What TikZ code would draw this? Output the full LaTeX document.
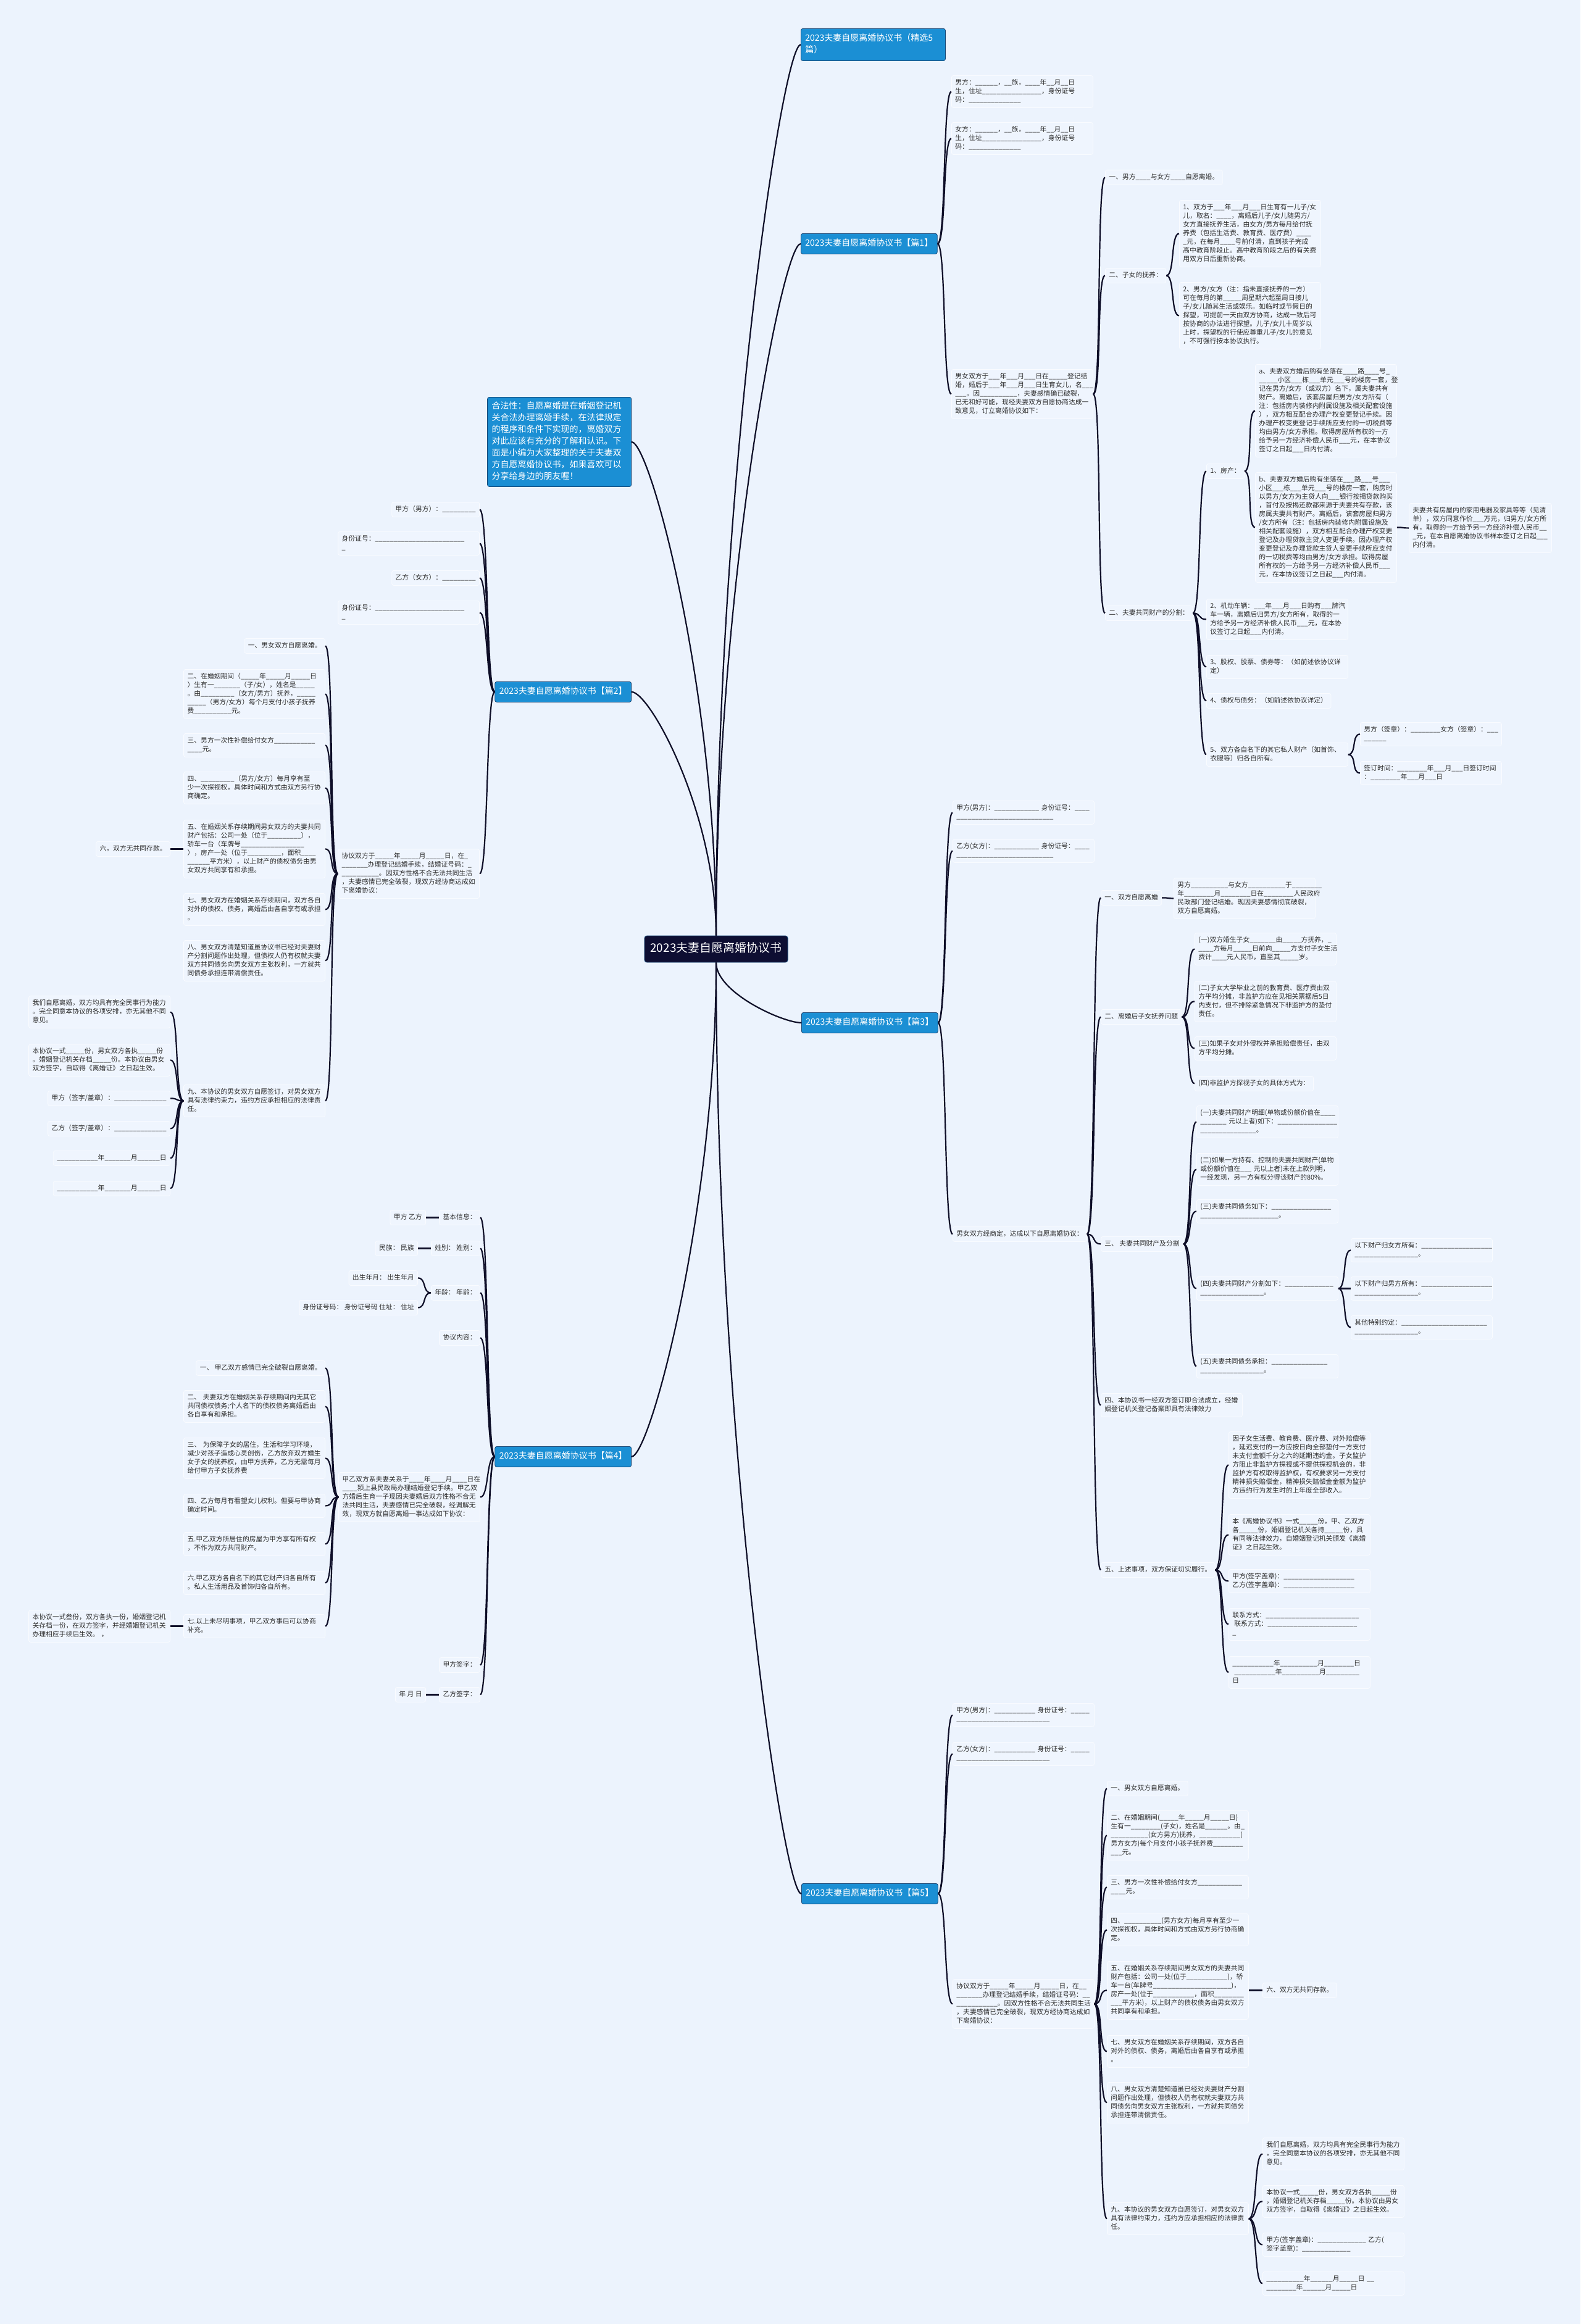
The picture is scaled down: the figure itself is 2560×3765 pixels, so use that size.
\documentclass[tikz,border=0pt]{standalone}
\usepackage{fontspec}
\setmainfont{Noto Sans CJK SC}
\usepackage{tikz}
\usetikzlibrary{calc}

\definecolor{bgc}{RGB}{236,243,253}
\definecolor{boxfill}{RGB}{239,245,254}
\definecolor{boxline}{RGB}{249,251,255}
\definecolor{textc}{RGB}{45,45,45}
\definecolor{linec}{RGB}{14,14,40}
\definecolor{headfill}{RGB}{27,143,212}
\definecolor{headline}{RGB}{22,72,120}
\definecolor{rootfill}{RGB}{14,14,50}

\tikzset{
  link/.style={draw=linec, line width=2.2pt},
  cell/.style={draw=boxline, fill=boxfill, rounded corners=3pt, line width=0.8pt,
    inner xsep=6pt, inner ysep=5pt, align=left, text=textc,
    font=\fontsize{10.8}{14}\selectfont,
    execute at begin node=\strut, execute at end node=\strut},
  box/.style={cell, text width=217pt},
  head/.style={draw=headline, fill=headfill, rounded corners=3pt, line width=0.8pt,
    inner xsep=7pt, inner ysep=7pt, align=left, text=white,
    font=\fontsize{14}{19}\selectfont,
    execute at begin node=\strut, execute at end node=\strut},
  rootbox/.style={draw=headline, fill=rootfill, rounded corners=4pt, line width=0.8pt,
    inner xsep=9.5pt, inner ysep=9.5pt, text=white,
    font=\fontsize{19}{24}\selectfont,
    execute at begin node=\strut},
}

\begin{document}
\catcode`\_=12
\begin{tikzpicture}[x=1pt, y=-1pt]
  \fill[bgc] (0,0) rectangle (2560,3765);
  \useasboundingbox (0,0) rectangle (2560,3765);

  % centre
  \node[rootbox] (root) at (1160,1537.5) {2023夫妻自愿离婚协议书};

  % right branches
  \node[head, anchor=north west, text width=220pt] (h0) at (1297,46) {2023夫妻自愿离婚协议书（精选5\\篇）};
  \node[head, anchor=north west] (h1) at (1297,378) {2023夫妻自愿离婚协议书【篇1】};
  \node[head, anchor=north west] (h3) at (1298,1640) {2023夫妻自愿离婚协议书【篇3】};
  \node[head, anchor=north west] (h5) at (1298,3051) {2023夫妻自愿离婚协议书【篇5】};

  % left branches
  \node[head, anchor=north east, text width=219pt, inner ysep=6pt] (note) at (1023,643)
    {合法性：自愿离婚是在婚姻登记机\\关合法办理离婚手续，在法律规定\\的程序和条件下实现的，离婚双方\\对此应该有充分的了解和认识。下\\面是小编为大家整理的关于夫妻双\\方自愿离婚协议书，如果喜欢可以\\分享给身边的朋友喔！};
  \node[head, anchor=north east] (h2) at (1023,1104) {2023夫妻自愿离婚协议书【篇2】};
  \node[head, anchor=north east] (h4) at (1023,2343) {2023夫妻自愿离婚协议书【篇4】};

  % ---- 篇1
  \node[box, anchor=north west] (p1a) at (1541,122) {男方：______，__族，____年__月__日\\生，住址________________，身份证号\\码：______________};
  \node[box, anchor=north west] (p1b) at (1541,198) {女方：______，__族，____年__月__日\\生，住址________________，身份证号\\码：______________};
  \node[box, anchor=north west] (p1c) at (1541,598) {男女双方于___年___月___日在_____登记结\\婚，婚后于___年___月___日生育女儿，名___\\___。因__________，夫妻感情确已破裂，\\已无和好可能，现经夫妻双方自愿协商达成一\\致意见，订立离婚协议如下：};
  \node[cell, anchor=north west] (p1d) at (1790,275) {一、男方____与女方____自愿离婚。};
  \node[cell, anchor=north west] (p1e) at (1790,434) {二、子女的抚养：};
  \node[box, anchor=north west] (p1e1) at (1910,324) {1、双方于___年___月___日生育有一儿子/女\\儿，取名：____，离婚后儿子/女儿随男方/\\女方直接抚养生活，由女方/男方每月给付抚\\养费（包括生活费、教育费、医疗费）____\\_元，在每月____号前付清，直到孩子完成\\高中教育阶段止。高中教育阶段之后的有关费\\用双方日后重新协商。};
  \node[box, anchor=north west] (p1e2) at (1910,457) {2、男方/女方（注：指未直接抚养的一方）\\可在每月的第_____周星期六起至周日接儿\\子/女儿随其生活或娱乐。如临时或节假日的\\探望，可提前一天由双方协商，达成一致后可\\按协商的办法进行探望。儿子/女儿十周岁以\\上时，探望权的行使应尊重儿子/女儿的意见\\，不可强行按本协议执行。};
  \node[cell, anchor=north west] (p1f) at (1790,981) {二、夫妻共同财产的分割：};
  \node[cell, anchor=north west] (p1f1) at (1954,751) {1、房产：};
  \node[box, anchor=north west] (p1fa) at (2033,590) {a、夫妻双方婚后购有坐落在____路____号_\\_____小区___栋___单元___号的楼房一套，登\\记在男方/女方（或双方）名下，属夫妻共有\\财产。离婚后，该套房屋归男方/女方所有（\\注：包括房内装修内附属设施及相关配套设施\\），双方相互配合办理产权变更登记手续。因\\办理产权变更登记手续所应支付的一切税费等\\均由男方/女方承担。取得房屋所有权的一方\\给予另一方经济补偿人民币___元，在本协议\\签订之日起___日内付清。};
  \node[box, anchor=north west] (p1fb) at (2033,765) {b、夫妻双方婚后购有坐落在___路___号___\\小区___栋___单元___号的楼房一套，购房时\\以男方/女方为主贷人向___银行按揭贷款购买\\，首付及按揭还款都来源于夫妻共有存款，该\\房属夫妻共有财产。离婚后，该套房屋归男方\\/女方所有（注：包括房内装修内附属设施及\\相关配套设施），双方相互配合办理产权变更\\登记及办理贷款主贷人变更手续。因办理产权\\变更登记及办理贷款主贷人变更手续所应支付\\的一切税费等均由男方/女方承担。取得房屋\\所有权的一方给予另一方经济补偿人民币___\\元，在本协议签订之日起___内付清。};
  \node[box, anchor=north west, text width=219pt] (p1fc) at (2282,815) {夫妻共有房屋内的家用电器及家具等等（见清\\单），双方同意作价___万元，归男方/女方所\\有，取得的一方给予另一方经济补偿人民币__\\_元，在本自愿离婚协议书样本签订之日起___\\内付清。};
  \node[box, anchor=north west] (p1f2) at (1954,970) {2、机动车辆：___年___月___日购有___牌汽\\车一辆，离婚后归男方/女方所有，取得的一\\方给予另一方经济补偿人民币___元，在本协\\议签订之日起___内付清。};
  \node[box, anchor=north west] (p1f3) at (1954,1061) {3、股权、股票、债券等：（如前述依协议详\\定）};
  \node[cell, anchor=north west] (p1f4) at (1954,1123) {4、债权与债务：（如前述依协议详定）};
  \node[box, anchor=north west] (p1f5) at (1954,1203) {5、双方各自名下的其它私人财产（如首饰、\\衣服等）归各自所有。};
  \node[box, anchor=north west] (p1g1) at (2203,1170) {男方（签章）：________女方（签章）：___\\______};
  \node[box, anchor=north west] (p1g2) at (2203,1233) {签订时间：________年___月___日签订时间\\：________年___月___日};

  % ---- 篇3
  \node[box, anchor=north west] (p3a) at (1543,1297) {甲方(男方)：____________~身份证号：____\\__________________________};
  \node[box, anchor=north west] (p3b) at (1543,1359) {乙方(女方)：____________~身份证号：____\\__________________________};
  \node[cell, anchor=north west] (p3c) at (1543,1987) {男女双方经商定，达成以下自愿离婚协议：};
  \node[cell, anchor=north west] (p3d) at (1783,1442) {一、双方自愿离婚};
  \node[box, anchor=north west] (p3d1) at (1901,1422) {男方__________与女方__________于________\\年________月________日在________人民政府\\民政部门登记结婚。现因夫妻感情彻底破裂，\\双方自愿离婚。};
  \node[cell, anchor=north west] (p3e) at (1783,1635) {二、离婚后子女抚养问题};
  \node[box, anchor=north west] (p3e1) at (1935,1511) {(一)双方婚生子女_______由_____方抚养，_\\____方每月_____日前向_____方支付子女生活\\费计____元人民币，直至其_____岁。};
  \node[box, anchor=north west] (p3e2) at (1935,1589) {(二)子女大学毕业之前的教育费、医疗费由双\\方平均分摊，非监护方应在见相关票据后5日\\内支付，但不排除紧急情况下非监护方的垫付\\责任。};
  \node[box, anchor=north west] (p3e3) at (1935,1679) {(三)如果子女对外侵权并承担赔偿责任，由双\\方平均分摊。};
  \node[cell, anchor=north west] (p3e4) at (1935,1743) {(四)非监护方探视子女的具体方式为：};
  \node[cell, anchor=north west] (p3f) at (1783,2003) {三、~夫妻共同财产及分割};
  \node[box, anchor=north west] (p3f1) at (1938,1791) {(一)夫妻共同财产明细(单物或份额价值在____\\_______~元以上者)如下：________________\\_______________。};
  \node[box, anchor=north west] (p3f2) at (1938,1868) {(二)如果一方持有、控制的夫妻共同财产(单物\\或份额价值在___~元以上者)未在上款列明，\\一经发现，另一方有权分得该财产的80\%。};
  \node[box, anchor=north west] (p3f3) at (1938,1943) {(三)夫妻共同债务如下：________________\\_____________________。};
  \node[box, anchor=north west] (p3f4) at (1938,2068) {(四)夫妻共同财产分割如下：_____________\\_________________。};
  \node[box, anchor=north west] (p3f4a) at (2188,2006) {以下财产归女方所有：___________________\\_________________。};
  \node[box, anchor=north west] (p3f4b) at (2188,2068) {以下财产归男方所有：___________________\\_________________。};
  \node[box, anchor=north west] (p3f4c) at (2188,2131) {其他特别约定：_______________________\\_________________。};
  \node[box, anchor=north west] (p3f5) at (1938,2194) {(五)夫妻共同债务承担：_______________\\_________________。};
  \node[box, anchor=north west] (p3g) at (1783,2257) {四、本协议书一经双方签订即合法成立，经婚\\姻登记机关登记备案即具有法律效力};
  \node[cell, anchor=north west] (p3h) at (1783,2531) {五、上述事项，双方保证切实履行。};
  \node[box, anchor=north west] (p3h1) at (1990,2319) {因子女生活费、教育费、医疗费、对外赔偿等\\，延迟支付的一方应按日向全部垫付一方支付\\未支付金额千分之六的延期违约金。子女监护\\方阻止非监护方探视或不提供探视机会的，非\\监护方有权取得监护权，有权要求另一方支付\\精神损失赔偿金，精神损失赔偿金金额为监护\\方违约行为发生时的上年度全部收入。};
  \node[box, anchor=north west] (p3h2) at (1990,2453) {本《离婚协议书》一式_____份，甲、乙双方\\各_____份，婚姻登记机关各持_____份，具\\有同等法律效力，自婚姻登记机关颁发《离婚\\证》之日起生效。};
  \node[box, anchor=north west] (p3h3) at (1990,2542) {甲方(签字盖章)：___________________\\乙方(签字盖章)：___________________};
  \node[box, anchor=north west] (p3h4) at (1990,2605) {联系方式：_________________________\\\hspace{3pt}联系方式：________________________\\_};
  \node[box, anchor=north west] (p3h5) at (1990,2683) {___________年__________月________日\\\hspace{3pt}___________年__________月_________\\日};

  % ---- 篇5
  \node[box, anchor=north west] (p5a) at (1543,2759) {甲方(男方)：___________~身份证号：_____\\_________________________};
  \node[box, anchor=north west] (p5b) at (1543,2822) {乙方(女方)：___________~身份证号：_____\\_________________________};
  \node[box, anchor=north west] (p5c) at (1543,3206) {协议双方于_____年_____月_____日，在__\\_______办理登记结婚手续，结婚证号码：__\\___________。因双方性格不合无法共同生活\\，夫妻感情已完全破裂，现双方经协商达成如\\下离婚协议：};
  \node[cell, anchor=north west] (p5d1) at (1793,2885) {一、男女双方自愿离婚。};
  \node[box, anchor=north west] (p5d2) at (1793,2933) {二、在婚姻期间(_____年_____月_____日)\\生有一________(子女)，姓名是______。由_\\__________(女方男方)抚养，___________(\\男方女方)每个月支付小孩子抚养费________\\___元。};
  \node[box, anchor=north west] (p5d3) at (1793,3038) {三、男方一次性补偿给付女方____________\\____元。};
  \node[box, anchor=north west] (p5d4) at (1793,3100) {四、__________(男方女方)每月享有至少一\\次探视权，具体时间和方式由双方另行协商确\\定。};
  \node[box, anchor=north west] (p5d5) at (1793,3177) {五、在婚姻关系存续期间男女双方的夫妻共同\\财产包括：公司一处(位于___________)，轿\\车一台(车牌号_____________________)，\\房产一处(位于___________，面积________\\___平方米)，以上财产的债权债务由男女双方\\共同享有和承担。};
  \node[cell, anchor=north west] (p5d6) at (2045,3212) {六、双方无共同存款。};
  \node[box, anchor=north west] (p5d7) at (1793,3297) {七、男女双方在婚姻关系存续期间，双方各自\\对外的债权、债务，离婚后由各自享有或承担\\。};
  \node[box, anchor=north west] (p5d8) at (1793,3373) {八、男女双方清楚知道虽已经对夫妻财产分割\\问题作出处理，但债权人仍有权就夫妻双方共\\同债务向男女双方主张权利，一方就共同债务\\承担连带清偿责任。};
  \node[box, anchor=north west] (p5d9) at (1793,3568) {九、本协议的男女双方自愿签订，对男女双方\\具有法律约束力，违约方应承担相应的法律责\\任。};
  \node[box, anchor=north west] (p5e1) at (2045,3463) {我们自愿离婚，双方均具有完全民事行为能力\\，完全同意本协议的各项安排，亦无其他不同\\意见。};
  \node[box, anchor=north west] (p5e2) at (2045,3540) {本协议一式_____份，男女双方各执_____份\\，婚姻登记机关存档_____份。本协议由男女\\双方签字，自取得《离婚证》之日起生效。};
  \node[box, anchor=north west] (p5e3) at (2045,3617) {甲方(签字盖章)：_____________~乙方(\\签字盖章)：_____________};
  \node[box, anchor=north west] (p5e4) at (2045,3680) {__________年______月_____日~__\\________年______月_____日};

  % ---- 篇2
  \node[cell, anchor=north east] (q2a) at (777,813) {甲方（男方）：_________};
  \node[box, anchor=north east] (q2b) at (777,861) {身份证号：________________________\\_};
  \node[cell, anchor=north east] (q2c) at (777,924) {乙方（女方）：_________};
  \node[box, anchor=north east] (q2d) at (777,973) {身份证号：________________________\\_};
  \node[box, anchor=north east] (q2e) at (777,1375) {协议双方于_____年_____月_____日，在_\\_______办理登记结婚手续，结婚证号码：_\\__________。因双方性格不合无法共同生活\\，夫妻感情已完全破裂，现双方经协商达成如\\下离婚协议：};
  \node[cell, anchor=north east] (q2f1) at (527,1034) {一、男女双方自愿离婚。};
  \node[box, anchor=north east] (q2f2) at (527,1084) {二、在婚姻期间（_____年_____月_____日\\）生有一_______（子/女），姓名是_____\\。由_________（女方/男方）抚养，_____\\_____（男方/女方）每个月支付小孩子抚养\\费__________元。};
  \node[box, anchor=north east] (q2f3) at (527,1188) {三、男方一次性补偿给付女方___________\\____元。};
  \node[box, anchor=north east] (q2f4) at (527,1250) {四、_________（男方/女方）每月享有至\\少一次探视权，具体时间和方式由双方另行协\\商确定。};
  \node[box, anchor=north east] (q2f5) at (527,1328) {五、在婚姻关系存续期间男女双方的夫妻共同\\财产包括：公司一处（位于_________），\\轿车一台（车牌号_________________\\），房产一处（位于_________，面积____\\______平方米），以上财产的债权债务由男\\女双方共同享有和承担。};
  \node[cell, anchor=north east] (q2f6) at (276,1363) {六，双方无共同存款。};
  \node[box, anchor=north east] (q2f7) at (527,1447) {七、男女双方在婚姻关系存续期间，双方各自\\对外的债权、债务，离婚后由各自享有或承担\\。};
  \node[box, anchor=north east] (q2f8) at (527,1523) {八、男女双方清楚知道虽协议书已经对夫妻财\\产分割问题作出处理，但债权人仍有权就夫妻\\双方共同债务向男女双方主张权利，一方就共\\同债务承担连带清偿责任。};
  \node[box, anchor=north east] (q2f9) at (527,1757) {九、本协议的男女双方自愿签订，对男女双方\\具有法律约束力，违约方应承担相应的法律责\\任。};
  \node[box, anchor=north east] (q2g1) at (276,1613) {我们自愿离婚，双方均具有完全民事行为能力\\。完全同意本协议的各项安排，亦无其他不同\\意见。};
  \node[box, anchor=north east] (q2g2) at (276,1691) {本协议一式_____份，男女双方各执_____份\\。婚姻登记机关存档_____份。本协议由男女\\双方签字，自取得《离婚证》之日起生效。};
  \node[cell, anchor=north east] (q2g3) at (276,1767) {甲方（签字/盖章）：______________};
  \node[cell, anchor=north east] (q2g4) at (276,1816) {乙方（签字/盖章）：______________};
  \node[cell, anchor=north east] (q2g5) at (276,1864) {___________年_______月______日};
  \node[cell, anchor=north east] (q2g6) at (276,1913) {___________年_______月______日};

  % ---- 篇4
  \node[cell, anchor=north east] (q4a) at (778,1960) {基本信息：};
  \node[cell, anchor=north east] (q4a1) at (690,1960) {甲方~乙方};
  \node[cell, anchor=north east] (q4b) at (778,2010) {姓别：~姓别：};
  \node[cell, anchor=north east] (q4b1) at (677,2010) {民族：~民族};
  \node[cell, anchor=north east] (q4c) at (778,2082) {年龄：~年龄：};
  \node[cell, anchor=north east] (q4c1) at (677,2058) {出生年月：~出生年月};
  \node[cell, anchor=north east] (q4c2) at (677,2106) {身份证号码：~身份证号码~住址：~住址};
  \node[cell, anchor=north east] (q4d) at (778,2155) {协议内容：};
  \node[box, anchor=north east] (q4e) at (778,2385) {甲乙双方系夫妻关系于____年____月____日在\\____颍上县民政局办理结婚登记手续。甲乙双\\方婚后生育一子现因夫妻婚后双方性格不合无\\法共同生活，夫妻感情已完全破裂，经调解无\\效，现双方就自愿离婚一事达成如下协议：};
  \node[cell, anchor=north east] (q4f1) at (527,2204) {一、~甲乙双方感情已完全破裂自愿离婚。};
  \node[box, anchor=north east] (q4f2) at (527,2252) {二、~夫妻双方在婚姻关系存续期间内无其它\\共同债权债务;个人名下的债权债务离婚后由\\各自享有和承担。};
  \node[box, anchor=north east] (q4f3) at (527,2329) {三、~为保障子女的居住，生活和学习环境，\\减少对孩子造成心灵创伤，乙方放弃双方婚生\\女子女的抚养权，由甲方抚养，乙方无需每月\\给付甲方子女抚养费};
  \node[box, anchor=north east] (q4f4) at (527,2420) {四、乙方每月有看望女儿权利。但要与甲协商\\确定时间。};
  \node[box, anchor=north east] (q4f5) at (527,2482) {五.甲乙双方所居住的房屋为甲方享有所有权\\，不作为双方共同财产。};
  \node[box, anchor=north east] (q4f6) at (527,2545) {六.甲乙双方各自名下的其它财产归各自所有\\。私人生活用品及首饰归各自所有。};
  \node[box, anchor=north east] (q4f7) at (527,2615) {七.以上未尽明事项，甲乙双方事后可以协商\\补充。};
  \node[box, anchor=north east] (q4f8) at (276,2608) {本协议一式叁份，双方各执一份，婚姻登记机\\关存档一份，在双方签字，并经婚姻登记机关\\办理相应手续后生效。~，};
  \node[cell, anchor=north east] (q4g) at (778,2685) {甲方签字：};
  \node[cell, anchor=north east] (q4h) at (778,2733) {乙方签字：};
  \node[cell, anchor=north east] (q4h1) at (690,2733) {年~月~日};

  % root to branches
  \foreach \h in {h0,h1}
    \draw[link] (root.north) .. controls ($(root.north)!.5!(root.north |- \h.west)$) and ($(\h.west)+(-30,0)$) .. (\h.west);
  \foreach \h in {h3,h5}
    \draw[link] (root.south) .. controls ($(root.south)!.5!(root.south |- \h.west)$) and ($(\h.west)+(-30,0)$) .. (\h.west);
  \foreach \h in {note,h2}
    \draw[link] (root.north) .. controls ($(root.north)!.5!(root.north |- \h.east)$) and ($(\h.east)+(30,0)$) .. (\h.east);
  \draw[link] (root.south) .. controls ($(root.south)!.5!(root.south |- h4.east)$) and ($(h4.east)+(30,0)$) .. (h4.east);

  % right side links
  \foreach \a/\b in {h1/p1a,h1/p1b,h1/p1c,p1c/p1d,p1c/p1e,p1c/p1f,p1e/p1e1,p1e/p1e2,
      p1f/p1f1,p1f/p1f2,p1f/p1f3,p1f/p1f4,p1f/p1f5,p1f1/p1fa,p1f1/p1fb,p1fb/p1fc,p1f5/p1g1,p1f5/p1g2,
      h3/p3a,h3/p3b,h3/p3c,p3c/p3d,p3c/p3e,p3c/p3f,p3c/p3g,p3c/p3h,p3d/p3d1,
      p3e/p3e1,p3e/p3e2,p3e/p3e3,p3e/p3e4,p3f/p3f1,p3f/p3f2,p3f/p3f3,p3f/p3f4,p3f/p3f5,
      p3f4/p3f4a,p3f4/p3f4b,p3f4/p3f4c,p3h/p3h1,p3h/p3h2,p3h/p3h3,p3h/p3h4,p3h/p3h5,
      h5/p5a,h5/p5b,h5/p5c,p5c/p5d1,p5c/p5d2,p5c/p5d3,p5c/p5d4,p5c/p5d5,p5c/p5d7,p5c/p5d8,p5c/p5d9,
      p5d5/p5d6,p5d9/p5e1,p5d9/p5e2,p5d9/p5e3,p5d9/p5e4}
    \draw[link] (\a.east) .. controls +(14,0) and +(-14,0) .. (\b.west);

  % left side links
  \foreach \a/\b in {h2/q2a,h2/q2b,h2/q2c,h2/q2d,h2/q2e,q2e/q2f1,q2e/q2f2,q2e/q2f3,q2e/q2f4,q2e/q2f5,
      q2e/q2f7,q2e/q2f8,q2e/q2f9,q2f5/q2f6,q2f9/q2g1,q2f9/q2g2,q2f9/q2g3,q2f9/q2g4,q2f9/q2g5,q2f9/q2g6,
      h4/q4a,h4/q4b,h4/q4c,h4/q4d,h4/q4e,h4/q4g,h4/q4h,q4a/q4a1,q4b/q4b1,q4c/q4c1,q4c/q4c2,
      q4e/q4f1,q4e/q4f2,q4e/q4f3,q4e/q4f4,q4e/q4f5,q4e/q4f6,q4e/q4f7,q4f7/q4f8,q4h/q4h1}
    \draw[link] (\a.west) .. controls +(-14,0) and +(14,0) .. (\b.east);
\end{tikzpicture}
\end{document}
